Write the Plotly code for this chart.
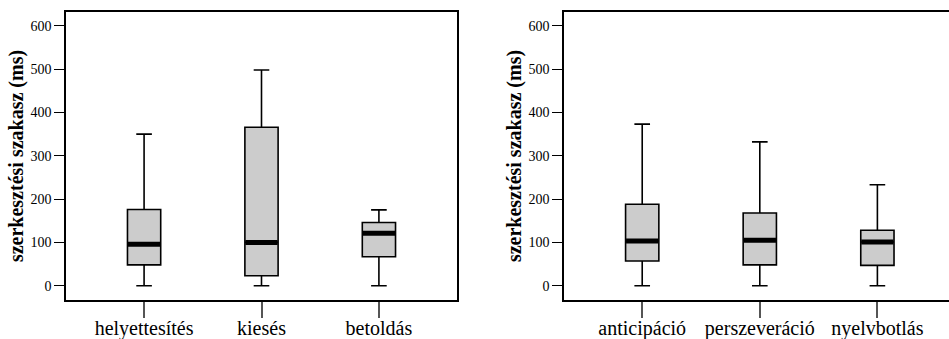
import plotly.graph_objects as go

# ---- data ----
cats_left = ["helyettesítés", "kiesés", "betoldás"]
low_left = [0, 0, 0]
q1_left = [48, 23, 67]
med_left = [96, 100, 121]
q3_left = [176, 366, 146]
up_left = [350, 498, 175]

cats_right = ["anticipáció", "perszeveráció", "nyelvbotlás"]
low_right = [0, 0, 0]
q1_right = [57, 48, 47]
med_right = [103, 105, 101]
q3_right = [188, 168, 128]
up_right = [373, 332, 233]

y_ticks = [0, 100, 200, 300, 400, 500, 600]
y_title = "szerkesztési szakasz (ms)"

BOX_W = 0.283
FONT = "Liberation Serif"

fig = go.Figure()


def add_panel(cats, low, q1, med, q3, up, xa, ya):
    xs = list(range(len(cats)))
    fig.add_trace(go.Box(
        x=xs, q1=q1, median=med, q3=q3, lowerfence=low, upperfence=up,
        width=BOX_W, whiskerwidth=0.47,
        fillcolor="#cccccc", line=dict(color="#000000", width=1.6),
        boxpoints=False, showlegend=False, xaxis=xa, yaxis=ya,
        hoverinfo="skip",
    ))
    mx, my = [], []
    for i, m in enumerate(med):
        mx += [i - BOX_W / 2 + 0.004, i + BOX_W / 2 - 0.004, None]
        my += [m, m, None]
    fig.add_trace(go.Scatter(
        x=mx, y=my, mode="lines", line=dict(color="#000000", width=5),
        showlegend=False, xaxis=xa, yaxis=ya, hoverinfo="skip",
    ))


add_panel(cats_left, low_left, q1_left, med_left, q3_left, up_left, "x", "y")
add_panel(cats_right, low_right, q1_right, med_right, q3_right, up_right, "x2", "y2")

axis_common = dict(showgrid=False, zeroline=False, linecolor="#000000",
                   linewidth=1.5, showline=True, color="#000000", automargin=False)

fig.update_layout(
    width=949, height=339,
    margin=dict(l=66, r=0, t=12, b=39),
    paper_bgcolor="#ffffff", plot_bgcolor="#ffffff",
    font=dict(family=FONT, color="#000000"),
    xaxis=dict(domain=[0, 0.4428], range=[-0.665, 2.665], mirror=True,
               tickmode="array", tickvals=[0, 1, 2], ticktext=cats_left,
               ticks="outside", ticklen=16, tickwidth=1.5, tickcolor="#555555",
               ticklabelstandoff=-7,
               tickfont=dict(size=20, family=FONT), **axis_common),
    yaxis=dict(domain=[0, 1], range=[-33, 632], mirror=True,
               tickmode="array", tickvals=y_ticks,
               ticks="outside", ticklen=10, tickwidth=1.2,
               tickfont=dict(size=14, family=FONT),
               title=dict(text="<b>" + y_title + "</b>", font=dict(size=20, family=FONT), standoff=1),
               **axis_common),
    xaxis2=dict(domain=[0.564, 1], range=[-0.665, 2.609], mirror=True, anchor="y2",
                tickmode="array", tickvals=[0, 1, 2], ticktext=cats_right,
                ticks="outside", ticklen=16, tickwidth=1.5, tickcolor="#555555",
                ticklabelstandoff=-7,
                tickfont=dict(size=20, family=FONT), **axis_common),
    yaxis2=dict(domain=[0, 1], range=[-33, 632], mirror=False, anchor="x2",
                tickmode="array", tickvals=y_ticks,
                ticks="outside", ticklen=10, tickwidth=1.2,
                tickfont=dict(size=14, family=FONT),
                title=dict(text="<b>" + y_title + "</b>", font=dict(size=20, family=FONT), standoff=1),
                **axis_common),
)

fig.write_html("out.html", post_script="document.body.style.margin='0';",
               config={"displayModeBar": False})
